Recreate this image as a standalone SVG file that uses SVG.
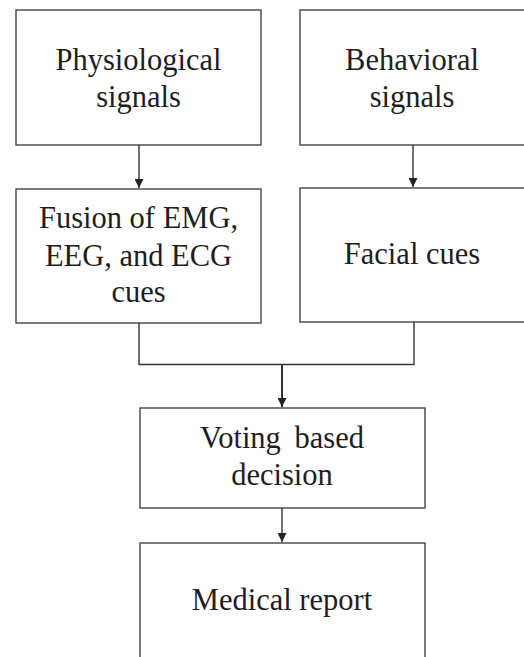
<svg xmlns="http://www.w3.org/2000/svg" width="524" height="657" viewBox="0 0 524 657">
<style>
.box{fill:#fff;stroke:#444;stroke-width:1.4}
.t{font-family:"Liberation Serif","Times New Roman",serif;font-size:30.5px;fill:#1e1e1e;text-anchor:middle}
.c{fill:none;stroke:#333;stroke-width:1.4}
.c2{fill:none;stroke:#333;stroke-width:2}
</style>
<defs>
<marker id="ah" viewBox="0 0 10 10" refX="10" refY="5" markerWidth="9" markerHeight="9" markerUnits="userSpaceOnUse" orient="auto">
<path d="M0,0 L10,5 L0,10 z" fill="#222"/>
</marker>
</defs>
<rect width="524" height="657" fill="#fff"/>
<g id="physio">
<rect class="box" x="16" y="10" width="245" height="135"/>
<text class="t" x="138.5" y="70">Physiological</text>
<text class="t" x="138.5" y="107">signals</text>
</g>
<g id="behav">
<rect class="box" x="300" y="10" width="230" height="135"/>
<text class="t" x="412" y="70">Behavioral</text>
<text class="t" x="412" y="107">signals</text>
</g>
<g id="fusion">
<rect class="box" x="16" y="189" width="245" height="134"/>
<text class="t" x="138.5" y="228">Fusion of EMG,</text>
<text class="t" x="138.5" y="266">EEG, and ECG</text>
<text class="t" x="138.5" y="302">cues</text>
</g>
<g id="facial">
<rect class="box" x="300" y="188" width="230" height="134"/>
<text class="t" x="412" y="264">Facial cues</text>
</g>
<g id="voting">
<rect class="box" x="140" y="408" width="285" height="100"/>
<text class="t" x="282" y="448" word-spacing="6">Voting based</text>
<text class="t" x="282" y="485">decision</text>
</g>
<g id="report">
<rect class="box" x="140" y="543" width="285" height="130"/>
<text class="t" x="282" y="610">Medical report</text>
</g>
<g id="connectors">
<path class="c" d="M139,145 V188" marker-end="url(#ah)"/>
<path class="c" d="M413,145 V187" marker-end="url(#ah)"/>
<path class="c" d="M139,323 V364.5 H414 V322"/>
<path class="c2" d="M282,364.5 V407" marker-end="url(#ah)"/>
<path class="c" d="M282,508 V542" marker-end="url(#ah)"/>
</g>
</svg>
